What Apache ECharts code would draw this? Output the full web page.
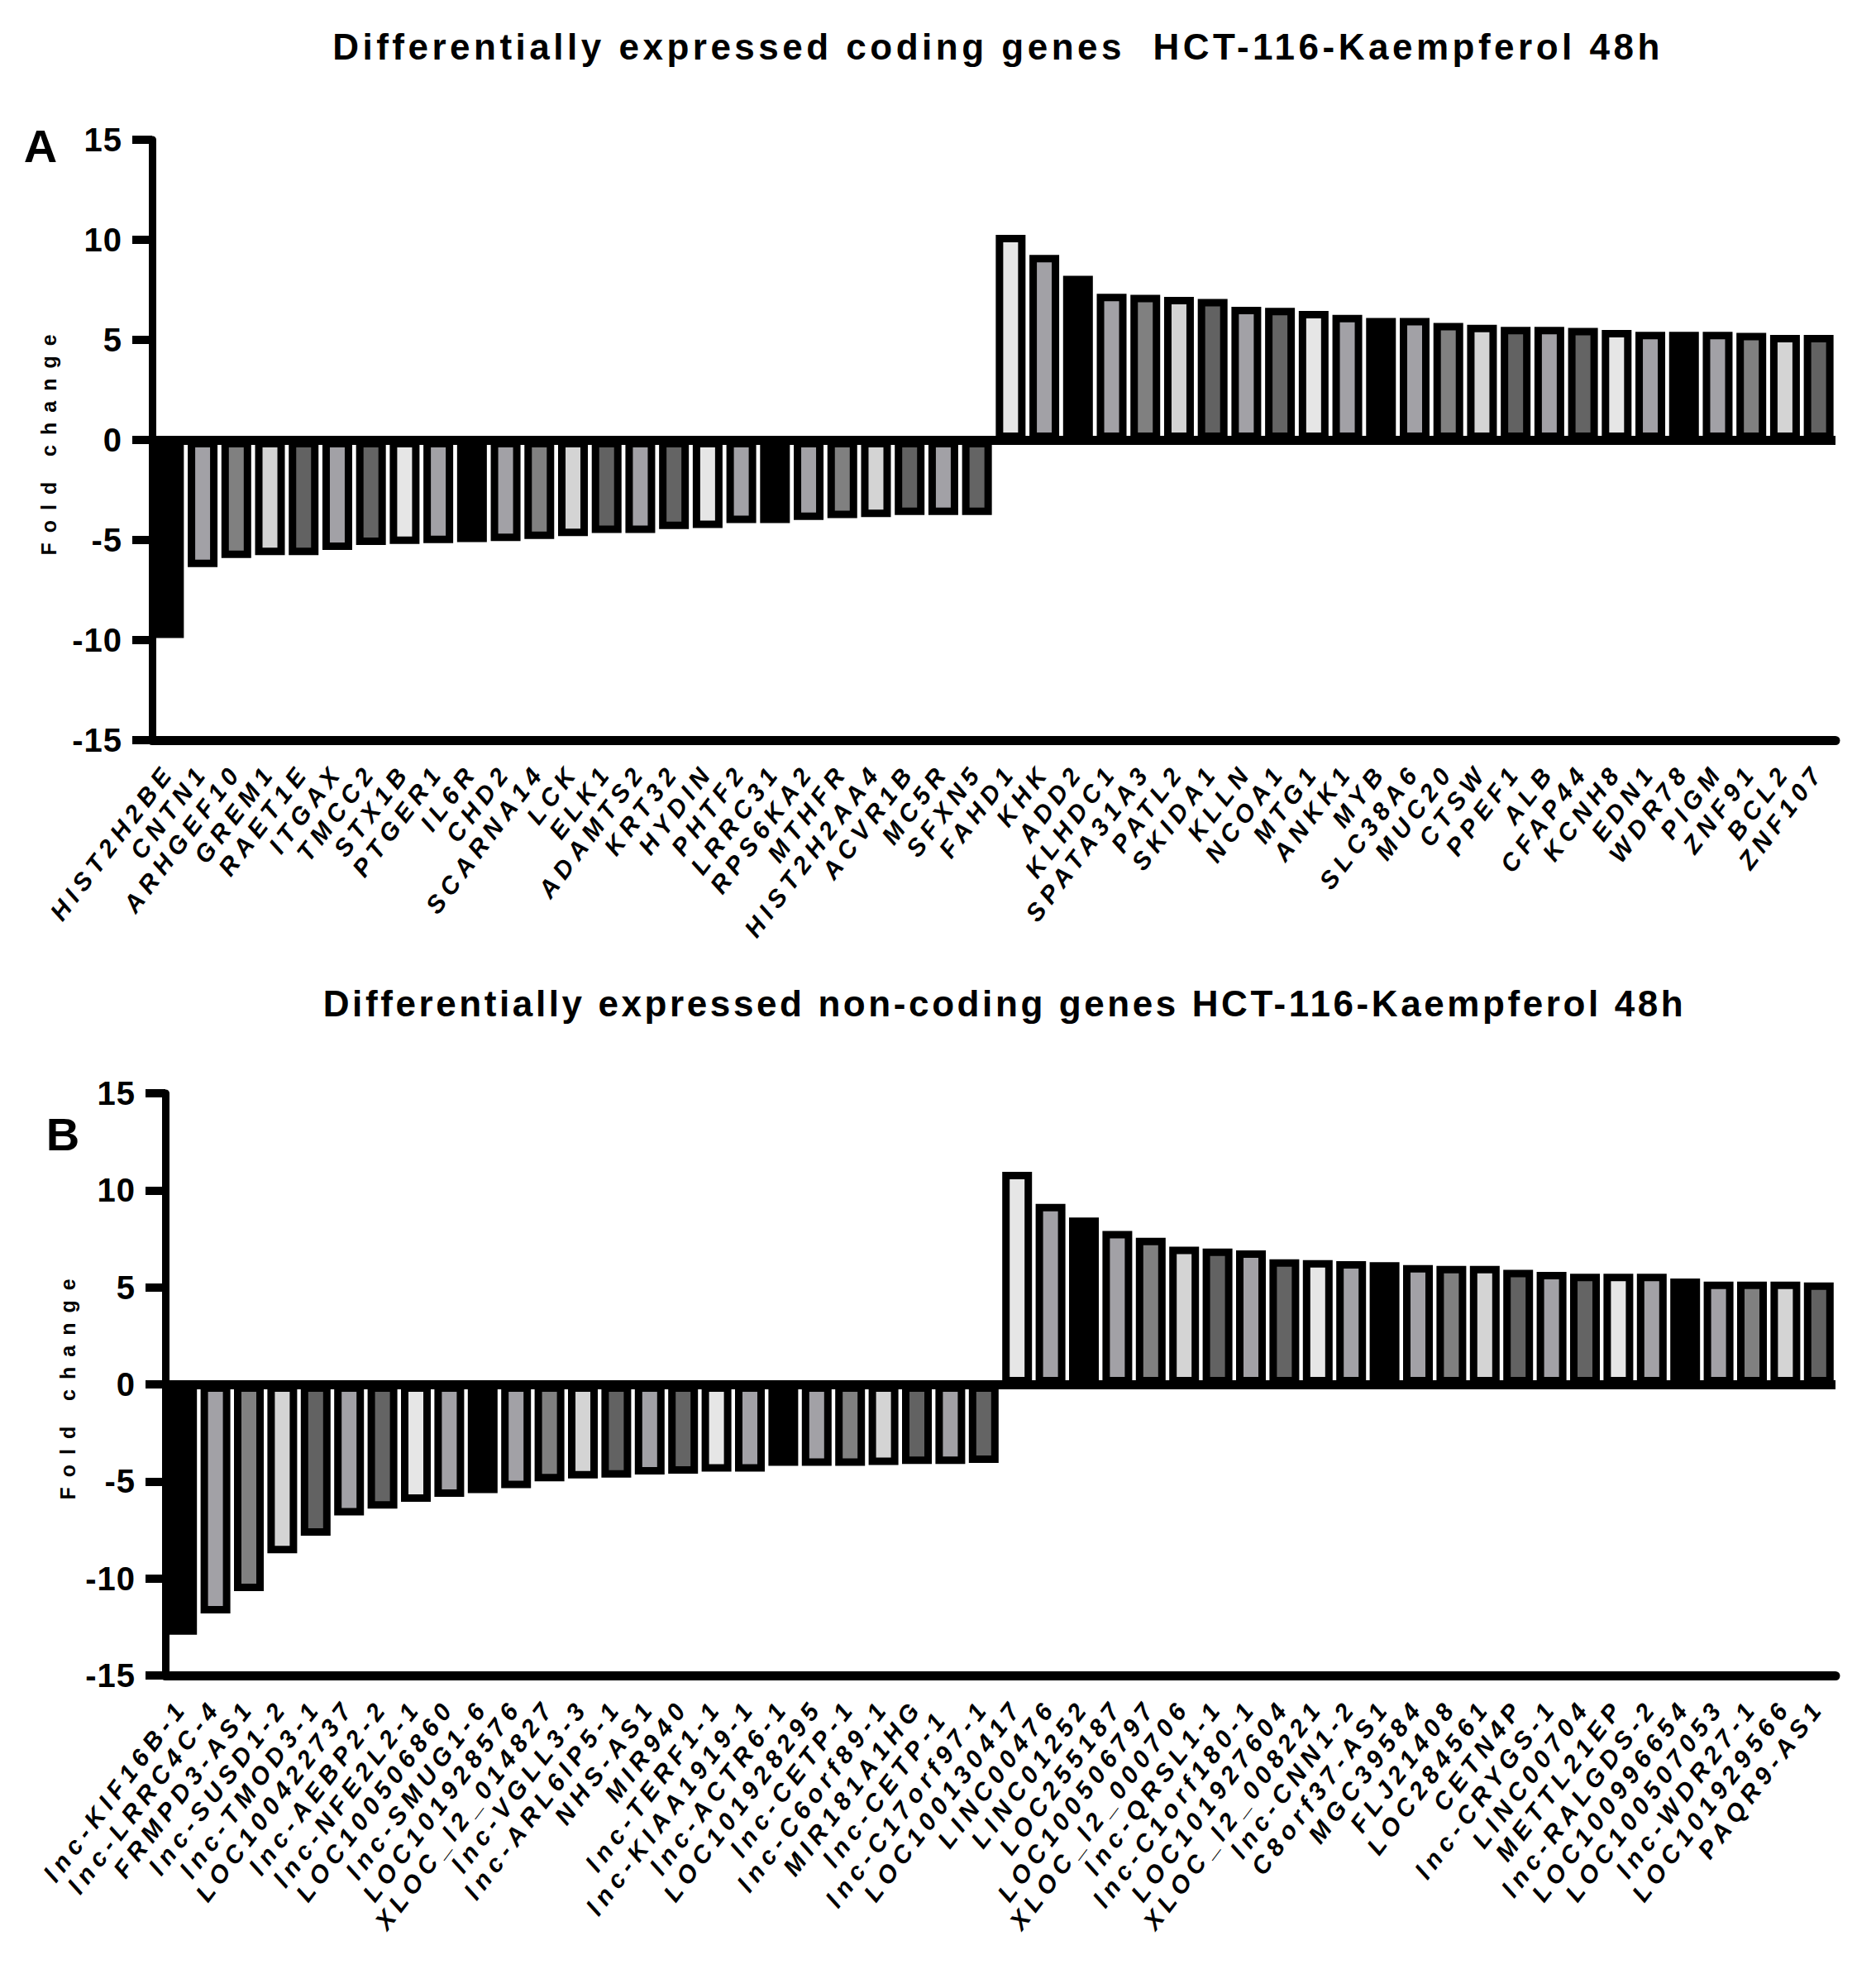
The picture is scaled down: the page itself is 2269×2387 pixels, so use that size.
<!DOCTYPE html>
<html>
<head>
<meta charset="utf-8">
<title>Differentially expressed genes HCT-116-Kaempferol 48h</title>
<script src="https://cdn.jsdelivr.net/npm/echarts@6.0.0/dist/echarts.min.js"></script>
<style>
    html, body {margin: 0; padding: 0; background: #fff;}
    #chart {width: 2269px; height: 2387px;}
</style>
</head>
<body>
<div id="chart"></div>
<script>
// panel A: coding genes
var codingGenes = ['HIST2H2BE', 'CNTN1', 'ARHGEF10', 'GREM1', 'RAET1E', 'ITGAX', 'TMCC2', 'STX1B', 'PTGER1', 'IL6R',
    'CHD2', 'SCARNA14', 'LCK', 'ELK1', 'ADAMTS2', 'KRT32', 'HYDIN', 'PHTF2', 'LRRC31', 'RPS6KA2',
    'MTHFR', 'HIST2H2AA4', 'ACVR1B', 'MC5R', 'SFXN5', 'FAHD1', 'KHK', 'ADD2', 'KLHDC1', 'SPATA31A3',
    'PATL2', 'SKIDA1', 'KLLN', 'NCOA1', 'MTG1', 'ANKK1', 'MYB', 'SLC38A6', 'MUC20', 'CTSW',
    'PPEF1', 'ALB', 'CFAP44', 'KCNH8', 'EDN1', 'WDR78', 'PIGM', 'ZNF91', 'BCL2', 'ZNF107'];
var codingFold = [-9.9, -6.35, -5.9, -5.75, -5.75, -5.5, -5.25, -5.2, -5.15, -5.1,
    -5.05, -4.95, -4.8, -4.65, -4.65, -4.45, -4.4, -4.15, -4.15, -4.0,
    -3.9, -3.85, -3.75, -3.75, -3.75, 10.25, 9.25, 8.2, 7.3, 7.25,
    7.15, 7.05, 6.65, 6.6, 6.45, 6.25, 6.1, 6.1, 5.85, 5.75,
    5.65, 5.65, 5.6, 5.5, 5.4, 5.4, 5.4, 5.35, 5.25, 5.25];

// panel B: non-coding genes
var noncodingGenes = ['lnc-KIF16B-1', 'lnc-LRRC4C-4', 'FRMPD3-AS1', 'lnc-SUSD1-2', 'lnc-TMOD3-1', 'LOC100422737', 'lnc-AEBP2-2', 'lnc-NFE2L2-1', 'LOC100506860', 'lnc-SMUG1-6',
    'LOC101928576', 'XLOC_l2_014827', 'lnc-VGLL3-3', 'lnc-ARL6IP5-1', 'NHS-AS1', 'MIR940', 'lnc-TERF1-1', 'lnc-KIAA1919-1', 'lnc-ACTR6-1', 'LOC101928295',
    'lnc-CETP-1', 'lnc-C6orf89-1', 'MIR181A1HG', 'lnc-CETP-1 ', 'lnc-C17orf97-1', 'LOC100130417', 'LINC00476', 'LINC01252', 'LOC255187', 'LOC100506797',
    'XLOC_l2_000706', 'lnc-QRSL1-1', 'lnc-C1orf180-1', 'LOC101927604', 'XLOC_l2_008221', 'lnc-CNN1-2', 'C8orf37-AS1', 'MGC39584', 'FLJ21408', 'LOC284561',
    'CETN4P', 'lnc-CRYGS-1', 'LINC00704', 'METTL21EP', 'lnc-RALGDS-2', 'LOC100996654', 'LOC100507053', 'lnc-WDR27-1', 'LOC101929566', 'PAQR9-AS1'];
var noncodingFold = [-12.9, -11.8, -10.65, -8.7, -7.8, -6.75, -6.4, -6.05, -5.8, -5.6,
    -5.35, -5.0, -4.85, -4.8, -4.65, -4.6, -4.5, -4.5, -4.2, -4.2,
    -4.2, -4.15, -4.1, -4.1, -4.05, 10.95, 9.3, 8.6, 7.9, 7.55,
    7.1, 7.0, 6.9, 6.45, 6.4, 6.35, 6.3, 6.15, 6.1, 6.1,
    5.9, 5.8, 5.7, 5.7, 5.7, 5.45, 5.3, 5.3, 5.3, 5.25];

var titleA = 'Differentially expressed coding genes  HCT-116-Kaempferol 48h';
var titleB = 'Differentially expressed non-coding genes HCT-116-Kaempferol 48h';
var yMin = -15, yMax = 15, yStep = 5;

// grey fills repeat every 9 bars
var fills = ['#000000', '#a2a1a6', '#808080', '#d4d4d4', '#626262', '#a2a1a6', '#646464', '#e6e6e6', '#a2a1a6'];

var narrow = '"Liberation Sans Narrow", "Liberation Sans", Arial, sans-serif';
var wide = '"Liberation Sans", Arial, sans-serif';

function xAxisFor(gi, cats) {
    return {
        type: 'category', gridIndex: gi, data: cats, position: 'bottom',
        axisLine: {onZero: false, lineStyle: {color: '#000', width: 11}},
        axisTick: {alignWithLabel: true, length: 30, lineStyle: {color: '#000', width: 10}},
        axisLabel: {
            interval: 0, rotate: 53, margin: 32, color: '#000',
            fontSize: 30, fontWeight: 'bold', fontStyle: 'italic', fontFamily: wide
        },
        splitLine: {show: false}
    };
}

function yAxisFor(gi, gap) {
    return {
        type: 'value', gridIndex: gi, min: yMin, max: yMax, interval: yStep,
        name: 'Fold change', nameLocation: 'middle', nameGap: gap,
        nameTextStyle: {fontSize: 25, fontWeight: 'bold', fontFamily: wide, color: '#000'},
        axisLine: {show: true, onZero: false, lineStyle: {color: '#000', width: 9}},
        axisTick: {show: true, length: 24, lineStyle: {color: '#000', width: 10}},
        axisLabel: {margin: 36, fontSize: 40, fontWeight: 'bold', fontFamily: narrow, color: '#000'},
        splitLine: {show: false}
    };
}

function barsFor(gi, vals) {
    return {
        type: 'bar', xAxisIndex: gi, yAxisIndex: gi, data: vals,
        barWidth: 36,
        itemStyle: {
            color: function (p) { return fills[p.dataIndex % fills.length]; },
            borderColor: '#000', borderWidth: 9
        },
        markLine: {
            silent: true, symbol: ['none', 'none'], label: {show: false},
            lineStyle: {color: '#000', width: 11, type: 'solid'},
            data: [{yAxis: 0}]
        }
    };
}

function headText(txt, x, y, size) {
    return {
        type: 'text', x: x, y: y, silent: true,
        style: {
            text: txt, fill: '#000', textAlign: 'center', textVerticalAlign: 'middle',
            font: 'bold ' + size + 'px ' + narrow
        }
    };
}

var chart = echarts.init(document.getElementById('chart'), null, {renderer: 'svg'});

var option = {
    backgroundColor: '#fff',
    animation: false,
    grid: [
        {left: 184, top: 169, width: 2036, height: 726, outerBoundsMode: 'none'},
        {left: 200, top: 1322, width: 2020, height: 704, outerBoundsMode: 'none'}
    ],
    xAxis: [xAxisFor(0, codingGenes), xAxisFor(1, noncodingGenes)],
    yAxis: [yAxisFor(0, 113), yAxisFor(1, 106)],
    series: [barsFor(0, codingFold), barsFor(1, noncodingFold)],
    graphic: [
        headText(titleA, 1207, 56, 44),
        headText(titleB, 1215, 1213, 44),
        headText('A', 49, 176, 56),
        headText('B', 76, 1371, 56)
    ]
};
chart.setOption(option);

// the figure uses widely tracked lettering
function spaceText() {
    var nodes = document.querySelectorAll('#chart svg text');
    for (var i = 0; i < nodes.length; i++) {
        var t = nodes[i];
        var s = t.textContent;
        var sp = 7;
        if (s === titleA) sp = 4.5;
        else if (s === titleB) sp = 3.6;
        else if (s === 'Fold change') sp = 12;
        else if (s === 'A' || s === 'B') sp = 0;
        else if (/^-?\d+$/.test(s)) sp = 1;
        t.style.letterSpacing = sp + 'px';
    }
}
chart.on('finished', spaceText);
spaceText();
</script>
</body>
</html>
